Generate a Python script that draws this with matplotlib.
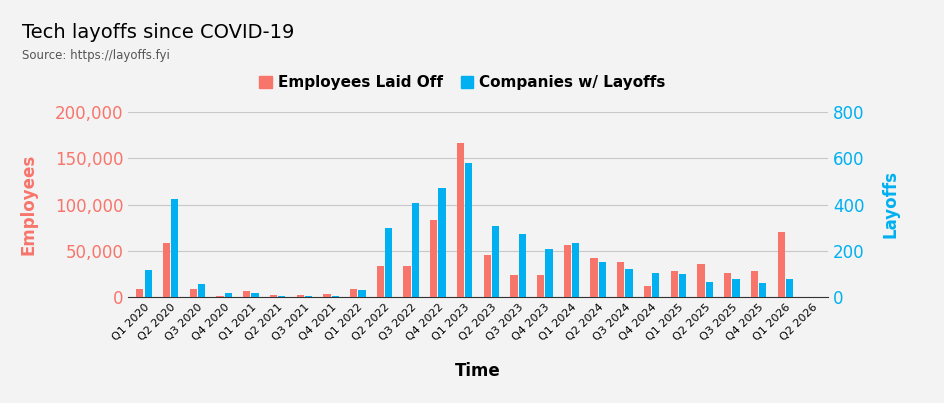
import matplotlib.pyplot as plt
import numpy as np

quarters = [f"Q{q} {y}" for y in range(2020, 2027) for q in range(1, 5)][:26]
employees = [9000, 58000, 9000, 1000, 6500, 2000, 2000, 3000, 9000, 33500, 33500, 83000,
             166000, 45000, 24000, 24000, 56000, 42000, 38000, 12000, 28000, 36000, 26000,
             28000, 70000, 0]
companies = [117, 424, 56, 17, 17, 4, 5, 4, 30, 298, 406, 471, 580, 307, 272, 208, 233,
             151, 121, 104, 99, 65, 78, 60, 78, 0]

RED = "#f8756b"
BLUE = "#00b0f0"
BG = "#f3f3f3"

fig = plt.figure(figsize=(9.44, 4.03), dpi=100, facecolor=BG)
ax = fig.add_axes([128 / 944, 1 - 297 / 403, 700 / 944, 185 / 403], facecolor=BG)
ax2 = ax.twinx()

x = np.arange(len(quarters))
w = 0.27
ax.bar(x - w / 2 - 0.02, employees, w, color=RED, zorder=3)
ax2.bar(x + w / 2 + 0.02, companies, w, color=BLUE, zorder=3)

ax.set_ylim(0, 200000)
ax2.set_ylim(0, 800)
ax.set_xlim(-0.6, len(x) - 0.4)
ax.set_yticks(range(0, 200001, 50000))
ax.set_yticklabels([f"{v:,}" for v in range(0, 200001, 50000)], color=RED, fontsize=12)
ax2.set_yticks(range(0, 801, 200))
ax2.set_yticklabels([str(v) for v in range(0, 801, 200)], color=BLUE, fontsize=12)
ax.set_xticks(x)
ax.set_xticklabels(quarters, rotation=45, ha="right", rotation_mode="anchor", fontsize=8)
ax.grid(axis="y", color="#c8c8c8", lw=0.8, zorder=0)
for a in (ax, ax2):
    for s in a.spines.values():
        s.set_visible(False)
    a.tick_params(length=0)
ax.spines["bottom"].set_visible(True)
ax.spines["bottom"].set_color("#333333")

ax.set_ylabel("Employees", color=RED, fontsize=12, fontweight="bold", labelpad=12)
ax2.set_ylabel("Layoffs", color=BLUE, fontsize=12, fontweight="bold", labelpad=12)
ax.set_xlabel("Time", fontsize=12, fontweight="bold", labelpad=14)

fig.text(22 / 944, 1 - 33 / 403, "Tech layoffs since COVID-19", fontsize=14, va="center")
fig.text(22 / 944, 1 - 55 / 403, "Source: https://layoffs.fyi", fontsize=8.5,
         color="#555555", va="center")

from matplotlib.patches import Patch
fig.legend(handles=[Patch(color=RED, label="Employees Laid Off"),
                    Patch(color=BLUE, label="Companies w/ Layoffs")],
           loc="center", bbox_to_anchor=(0.49, 1 - 83 / 403), ncol=2, frameon=False,
           prop={"weight": "bold", "size": 11}, handlelength=0.8, handleheight=0.8,
           columnspacing=1.2, handletextpad=0.4)

fig.savefig("out.png", dpi=100, facecolor=BG)
